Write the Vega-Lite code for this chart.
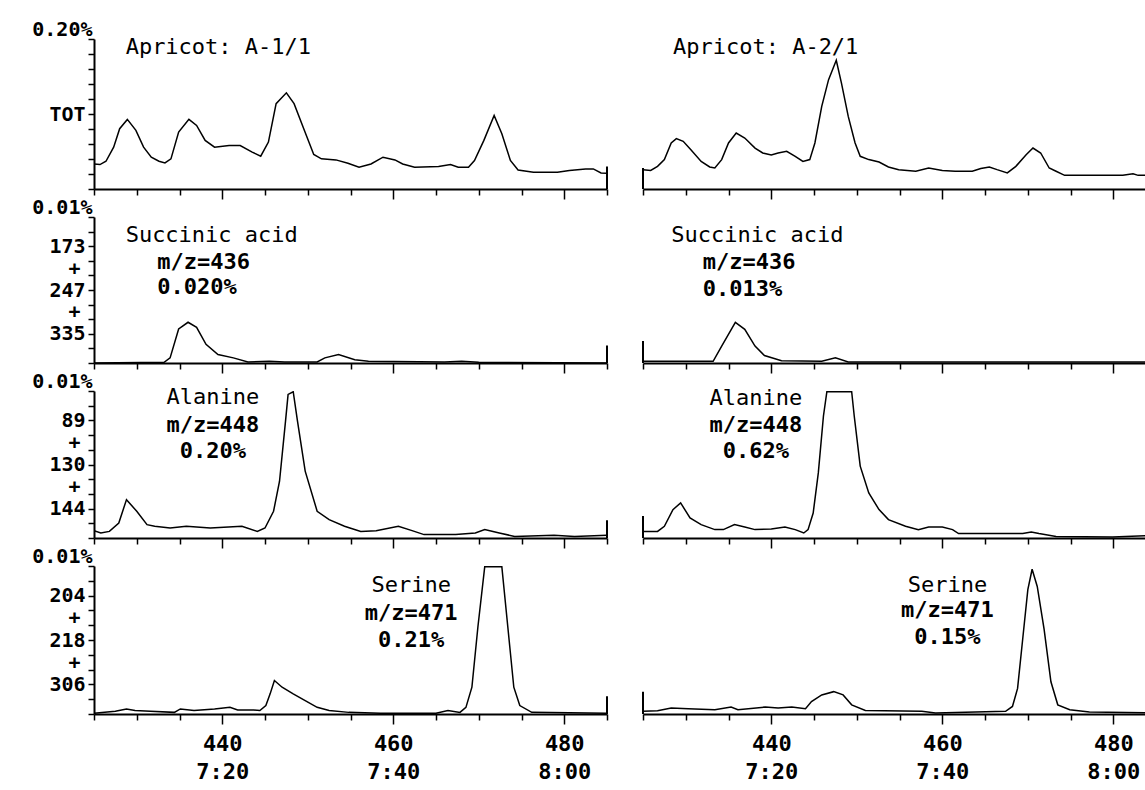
{
  "$schema": "https://vega.github.io/schema/vega-lite/v6.json",
  "padding": {"left": 5, "top": 19, "right": 0, "bottom": 0},
  "background": "white",
  "config": {
    "view": {"stroke": null},
    "axis": {
      "labelFont": "DejaVu Sans Mono", "labelFontSize": 22, "labelFontWeight": "bold", "labelColor": "black",
      "domainColor": "black", "domainWidth": 2, "tickColor": "black", "tickWidth": 1.5, "grid": false
    },
    "axisY": {"labelFontSize": 20},
    "text": {"font": "DejaVu Sans Mono", "fontSize": 22, "color": "black"},
    "line": {"color": "black", "strokeWidth": 1.5}
  },
  "datasets": {
    "traces": [
      {"panel":"L1","scan":425.0,"v":16.7},{"panel":"L1","scan":425.7,"v":16.3},{"panel":"L1","scan":426.4,"v":18.5},{"panel":"L1","scan":427.3,"v":27.9},{"panel":"L1","scan":428.0,"v":40.2},{"panel":"L1","scan":428.9,"v":46.4},{"panel":"L1","scan":429.9,"v":39.1},{"panel":"L1","scan":430.8,"v":27.9},{"panel":"L1","scan":431.7,"v":21.2},{"panel":"L1","scan":432.6,"v":18.5},{"panel":"L1","scan":433.3,"v":17.4},{"panel":"L1","scan":434.0,"v":20.1},{"panel":"L1","scan":434.9,"v":37.9},{"panel":"L1","scan":436.1,"v":46.4},{"panel":"L1","scan":437.0,"v":42.4},{"panel":"L1","scan":438.0,"v":32.4},{"panel":"L1","scan":439.1,"v":27.9},{"panel":"L1","scan":440.8,"v":29.0},{"panel":"L1","scan":442.1,"v":29.0},{"panel":"L1","scan":443.5,"v":24.6},{"panel":"L1","scan":444.5,"v":21.9},{"panel":"L1","scan":445.4,"v":31.3},{"panel":"L1","scan":446.3,"v":56.9},{"panel":"L1","scan":447.5,"v":64.1},{"panel":"L1","scan":448.4,"v":56.9},{"panel":"L1","scan":449.6,"v":39.1},{"panel":"L1","scan":450.7,"v":23.0},{"panel":"L1","scan":451.6,"v":20.1},{"panel":"L1","scan":453.3,"v":19.4},{"panel":"L1","scan":454.7,"v":17.2},{"panel":"L1","scan":456.0,"v":14.5},{"panel":"L1","scan":457.4,"v":16.7},{"panel":"L1","scan":458.8,"v":21.2},{"panel":"L1","scan":460.2,"v":19.4},{"panel":"L1","scan":461.1,"v":16.7},{"panel":"L1","scan":462.5,"v":14.5},{"panel":"L1","scan":465.3,"v":15.0},{"panel":"L1","scan":466.7,"v":16.3},{"panel":"L1","scan":467.6,"v":14.5},{"panel":"L1","scan":468.8,"v":14.5},{"panel":"L1","scan":469.5,"v":19.0},{"panel":"L1","scan":470.6,"v":32.4},{"panel":"L1","scan":471.8,"v":49.1},{"panel":"L1","scan":472.7,"v":36.8},{"panel":"L1","scan":473.7,"v":19.0},{"panel":"L1","scan":474.6,"v":12.7},{"panel":"L1","scan":476.4,"v":11.2},{"panel":"L1","scan":479.2,"v":11.2},{"panel":"L1","scan":480.6,"v":12.3},{"panel":"L1","scan":482.5,"v":13.4},{"panel":"L1","scan":483.4,"v":13.4},{"panel":"L1","scan":484.3,"v":10.7},{"panel":"L1","scan":485.0,"v":10.5},
      {"panel":"R1","scan":425.0,"v":12.9},{"panel":"R1","scan":425.9,"v":12.4},{"panel":"R1","scan":426.7,"v":15.1},{"panel":"R1","scan":427.5,"v":19.6},{"panel":"R1","scan":428.3,"v":30.7},{"panel":"R1","scan":428.9,"v":33.6},{"panel":"R1","scan":429.7,"v":31.8},{"panel":"R1","scan":430.6,"v":26.2},{"panel":"R1","scan":431.8,"v":18.4},{"panel":"R1","scan":432.8,"v":14.7},{"panel":"R1","scan":433.4,"v":14.0},{"panel":"R1","scan":434.2,"v":19.6},{"panel":"R1","scan":435.0,"v":30.7},{"panel":"R1","scan":435.9,"v":37.3},{"panel":"R1","scan":436.9,"v":34.0},{"panel":"R1","scan":438.1,"v":27.3},{"panel":"R1","scan":439.0,"v":24.0},{"panel":"R1","scan":440.0,"v":22.7},{"panel":"R1","scan":440.8,"v":24.0},{"panel":"R1","scan":441.8,"v":25.1},{"panel":"R1","scan":442.8,"v":21.8},{"panel":"R1","scan":443.7,"v":18.4},{"panel":"R1","scan":444.5,"v":19.6},{"panel":"R1","scan":445.1,"v":30.7},{"panel":"R1","scan":445.9,"v":55.1},{"panel":"R1","scan":446.7,"v":72.9},{"panel":"R1","scan":447.6,"v":85.8},{"panel":"R1","scan":448.2,"v":70.7},{"panel":"R1","scan":449.0,"v":48.4},{"panel":"R1","scan":449.8,"v":30.7},{"panel":"R1","scan":450.4,"v":21.8},{"panel":"R1","scan":451.4,"v":19.6},{"panel":"R1","scan":452.6,"v":18.0},{"panel":"R1","scan":453.7,"v":14.7},{"panel":"R1","scan":454.9,"v":12.9},{"panel":"R1","scan":456.9,"v":11.8},{"panel":"R1","scan":458.4,"v":14.0},{"panel":"R1","scan":460.0,"v":12.4},{"panel":"R1","scan":461.5,"v":11.8},{"panel":"R1","scan":463.5,"v":11.8},{"panel":"R1","scan":464.5,"v":13.6},{"panel":"R1","scan":465.5,"v":14.7},{"panel":"R1","scan":466.4,"v":12.9},{"panel":"R1","scan":467.6,"v":10.7},{"panel":"R1","scan":468.6,"v":15.1},{"panel":"R1","scan":469.8,"v":22.9},{"panel":"R1","scan":470.6,"v":27.3},{"panel":"R1","scan":471.5,"v":24.0},{"panel":"R1","scan":472.5,"v":14.0},{"panel":"R1","scan":473.3,"v":11.8},{"panel":"R1","scan":474.3,"v":9.1},{"panel":"R1","scan":477.2,"v":9.1},{"panel":"R1","scan":481.1,"v":9.1},{"panel":"R1","scan":482.3,"v":10.2},{"panel":"R1","scan":482.9,"v":9.1},{"panel":"R1","scan":483.7,"v":9.1},
      {"panel":"L2","scan":425.0,"v":0.0},{"panel":"L2","scan":433.2,"v":0.5},{"panel":"L2","scan":433.9,"v":3.5},{"panel":"L2","scan":434.9,"v":23.3},{"panel":"L2","scan":436.0,"v":27.9},{"panel":"L2","scan":437.0,"v":24.4},{"panel":"L2","scan":438.1,"v":12.8},{"panel":"L2","scan":439.5,"v":5.8},{"panel":"L2","scan":441.3,"v":3.5},{"panel":"L2","scan":443.0,"v":0.7},{"panel":"L2","scan":445.5,"v":1.2},{"panel":"L2","scan":447.3,"v":0.7},{"panel":"L2","scan":451.1,"v":0.7},{"panel":"L2","scan":452.0,"v":3.5},{"panel":"L2","scan":453.6,"v":5.8},{"panel":"L2","scan":455.5,"v":2.3},{"panel":"L2","scan":457.1,"v":1.2},{"panel":"L2","scan":466.0,"v":0.7},{"panel":"L2","scan":468.0,"v":1.2},{"panel":"L2","scan":470.0,"v":0.5},{"panel":"L2","scan":485.0,"v":0.0},
      {"panel":"R2","scan":425.0,"v":1.2},{"panel":"R2","scan":433.2,"v":1.2},{"panel":"R2","scan":434.2,"v":11.6},{"panel":"R2","scan":435.8,"v":27.8},{"panel":"R2","scan":436.9,"v":23.1},{"panel":"R2","scan":438.1,"v":11.6},{"panel":"R2","scan":439.2,"v":5.1},{"panel":"R2","scan":441.2,"v":1.6},{"panel":"R2","scan":445.9,"v":1.2},{"panel":"R2","scan":447.5,"v":3.5},{"panel":"R2","scan":449.0,"v":0.7},{"panel":"R2","scan":483.7,"v":0.7},
      {"panel":"L3","scan":425.0,"v":5.0},{"panel":"L3","scan":425.8,"v":3.4},{"panel":"L3","scan":426.8,"v":4.5},{"panel":"L3","scan":427.9,"v":10.2},{"panel":"L3","scan":428.8,"v":26.1},{"panel":"L3","scan":430.0,"v":18.2},{"panel":"L3","scan":431.2,"v":9.1},{"panel":"L3","scan":432.1,"v":8.0},{"panel":"L3","scan":433.9,"v":6.8},{"panel":"L3","scan":435.8,"v":8.0},{"panel":"L3","scan":438.6,"v":6.8},{"panel":"L3","scan":442.3,"v":8.0},{"panel":"L3","scan":444.1,"v":4.5},{"panel":"L3","scan":445.0,"v":6.8},{"panel":"L3","scan":446.0,"v":18.2},{"panel":"L3","scan":446.7,"v":38.6},{"panel":"L3","scan":447.4,"v":79.5},{"panel":"L3","scan":447.7,"v":97.7},{"panel":"L3","scan":448.3,"v":99.5},{"panel":"L3","scan":448.8,"v":79.5},{"panel":"L3","scan":449.7,"v":45.5},{"panel":"L3","scan":451.1,"v":18.2},{"panel":"L3","scan":452.5,"v":12.5},{"panel":"L3","scan":454.3,"v":8.0},{"panel":"L3","scan":456.2,"v":4.5},{"panel":"L3","scan":458.0,"v":5.0},{"panel":"L3","scan":460.6,"v":8.0},{"panel":"L3","scan":462.2,"v":5.0},{"panel":"L3","scan":463.6,"v":2.3},{"panel":"L3","scan":467.3,"v":2.3},{"panel":"L3","scan":469.6,"v":3.4},{"panel":"L3","scan":470.7,"v":5.7},{"panel":"L3","scan":472.4,"v":3.4},{"panel":"L3","scan":474.2,"v":1.1},{"panel":"L3","scan":478.8,"v":1.8},{"panel":"L3","scan":481.2,"v":1.1},{"panel":"L3","scan":485.0,"v":1.8},
      {"panel":"R3","scan":425.0,"v":4.5},{"panel":"R3","scan":426.7,"v":4.5},{"panel":"R3","scan":427.5,"v":8.0},{"panel":"R3","scan":428.5,"v":19.3},{"panel":"R3","scan":429.4,"v":23.9},{"panel":"R3","scan":430.5,"v":13.6},{"panel":"R3","scan":431.8,"v":9.1},{"panel":"R3","scan":433.4,"v":5.7},{"panel":"R3","scan":434.4,"v":5.7},{"panel":"R3","scan":435.7,"v":9.1},{"panel":"R3","scan":436.9,"v":7.5},{"panel":"R3","scan":438.1,"v":5.7},{"panel":"R3","scan":440.0,"v":6.1},{"panel":"R3","scan":441.6,"v":7.5},{"panel":"R3","scan":442.8,"v":5.7},{"panel":"R3","scan":443.8,"v":3.4},{"panel":"R3","scan":444.3,"v":5.7},{"panel":"R3","scan":444.9,"v":17.0},{"panel":"R3","scan":445.5,"v":44.3},{"panel":"R3","scan":446.1,"v":83.0},{"panel":"R3","scan":446.5,"v":99.5},{"panel":"R3","scan":449.4,"v":99.5},{"panel":"R3","scan":449.7,"v":83.0},{"panel":"R3","scan":450.4,"v":48.9},{"panel":"R3","scan":451.4,"v":30.7},{"panel":"R3","scan":452.6,"v":19.3},{"panel":"R3","scan":453.7,"v":12.5},{"panel":"R3","scan":455.7,"v":8.0},{"panel":"R3","scan":457.2,"v":5.7},{"panel":"R3","scan":458.4,"v":7.5},{"panel":"R3","scan":460.0,"v":7.5},{"panel":"R3","scan":461.2,"v":5.7},{"panel":"R3","scan":461.9,"v":3.0},{"panel":"R3","scan":469.4,"v":3.0},{"panel":"R3","scan":470.4,"v":4.1},{"panel":"R3","scan":471.3,"v":3.0},{"panel":"R3","scan":473.3,"v":1.1},{"panel":"R3","scan":479.9,"v":0.7},{"panel":"R3","scan":483.7,"v":1.6},
      {"panel":"L4","scan":425.0,"v":0.5},{"panel":"L4","scan":427.5,"v":1.8},{"panel":"L4","scan":428.8,"v":3.4},{"panel":"L4","scan":429.8,"v":2.3},{"panel":"L4","scan":431.6,"v":1.8},{"panel":"L4","scan":434.4,"v":1.1},{"panel":"L4","scan":435.1,"v":3.4},{"panel":"L4","scan":436.7,"v":2.3},{"panel":"L4","scan":439.1,"v":3.4},{"panel":"L4","scan":440.9,"v":4.5},{"panel":"L4","scan":441.8,"v":2.7},{"panel":"L4","scan":443.7,"v":2.7},{"panel":"L4","scan":444.4,"v":2.3},{"panel":"L4","scan":445.1,"v":5.7},{"panel":"L4","scan":445.6,"v":13.6},{"panel":"L4","scan":446.1,"v":22.6},{"panel":"L4","scan":447.0,"v":18.1},{"panel":"L4","scan":448.3,"v":13.6},{"panel":"L4","scan":449.7,"v":9.0},{"panel":"L4","scan":451.1,"v":4.5},{"panel":"L4","scan":452.5,"v":2.3},{"panel":"L4","scan":454.8,"v":1.1},{"panel":"L4","scan":458.5,"v":0.5},{"panel":"L4","scan":465.0,"v":0.5},{"panel":"L4","scan":466.4,"v":2.3},{"panel":"L4","scan":467.8,"v":1.1},{"panel":"L4","scan":468.5,"v":4.5},{"panel":"L4","scan":469.2,"v":18.1},{"panel":"L4","scan":469.9,"v":58.8},{"panel":"L4","scan":470.7,"v":99.5},{"panel":"L4","scan":472.7,"v":99.5},{"panel":"L4","scan":473.4,"v":58.8},{"panel":"L4","scan":474.1,"v":18.1},{"panel":"L4","scan":474.8,"v":5.7},{"panel":"L4","scan":476.2,"v":1.1},{"panel":"L4","scan":485.0,"v":0.5},
      {"panel":"R4","scan":425.0,"v":1.8},{"panel":"R4","scan":426.7,"v":2.2},{"panel":"R4","scan":428.3,"v":4.0},{"panel":"R4","scan":430.3,"v":3.6},{"panel":"R4","scan":433.4,"v":2.9},{"panel":"R4","scan":435.3,"v":4.7},{"panel":"R4","scan":436.1,"v":2.9},{"panel":"R4","scan":439.3,"v":4.7},{"panel":"R4","scan":440.8,"v":4.0},{"panel":"R4","scan":442.4,"v":4.7},{"panel":"R4","scan":444.0,"v":3.6},{"panel":"R4","scan":444.7,"v":8.4},{"panel":"R4","scan":445.9,"v":12.9},{"panel":"R4","scan":447.3,"v":15.1},{"panel":"R4","scan":448.4,"v":12.9},{"panel":"R4","scan":449.4,"v":6.2},{"panel":"R4","scan":451.0,"v":2.4},{"panel":"R4","scan":457.6,"v":1.8},{"panel":"R4","scan":459.2,"v":0.7},{"panel":"R4","scan":467.4,"v":1.8},{"panel":"R4","scan":468.2,"v":5.1},{"panel":"R4","scan":468.8,"v":17.3},{"panel":"R4","scan":469.4,"v":50.7},{"panel":"R4","scan":470.0,"v":84.0},{"panel":"R4","scan":470.5,"v":97.8},{"panel":"R4","scan":471.1,"v":86.2},{"panel":"R4","scan":471.9,"v":57.3},{"panel":"R4","scan":472.7,"v":21.8},{"panel":"R4","scan":473.5,"v":6.2},{"panel":"R4","scan":474.9,"v":2.9},{"panel":"R4","scan":477.2,"v":1.3},{"panel":"R4","scan":483.7,"v":0.9}
    ],
    "notes": [
      {"panel":"L1","kind":"name","scan":428.7,"v":95,"text":"Apricot: A-1/1"},
      {"panel":"R1","kind":"name","scan":428.5,"v":95,"text":"Apricot: A-2/1"},
      {"panel":"L2","kind":"name","scan":428.7,"v":88,"text":"Succinic acid"},
      {"panel":"L2","kind":"value","scan":432.4,"v":69,"text":"m/z=436"},
      {"panel":"L2","kind":"value","scan":432.4,"v":52,"text":"0.020%"},
      {"panel":"R2","kind":"name","scan":428.3,"v":88,"text":"Succinic acid"},
      {"panel":"R2","kind":"value","scan":432.0,"v":69,"text":"m/z=436"},
      {"panel":"R2","kind":"value","scan":432.0,"v":51,"text":"0.013%"},
      {"panel":"L3","kind":"name","scan":438.9,"v":96,"text":"Alanine"},
      {"panel":"L3","kind":"value","scan":438.9,"v":77,"text":"m/z=448"},
      {"panel":"L3","kind":"value","scan":438.9,"v":59,"text":"0.20%"},
      {"panel":"R3","kind":"name","scan":438.2,"v":95,"text":"Alanine"},
      {"panel":"R3","kind":"value","scan":438.2,"v":77,"text":"m/z=448"},
      {"panel":"R3","kind":"value","scan":438.2,"v":59,"text":"0.62%"},
      {"panel":"L4","kind":"name","scan":462.1,"v":87,"text":"Serine"},
      {"panel":"L4","kind":"value","scan":462.1,"v":68,"text":"m/z=471"},
      {"panel":"L4","kind":"value","scan":462.1,"v":50,"text":"0.21%"},
      {"panel":"R4","kind":"name","scan":460.6,"v":87,"text":"Serine"},
      {"panel":"R4","kind":"value","scan":460.6,"v":70,"text":"m/z=471"},
      {"panel":"R4","kind":"value","scan":460.6,"v":52,"text":"0.15%"}
    ],
    "edges": [
      {"panel":"L1","scan":485,"v":0,"v2":15},{"panel":"L2","scan":485,"v":0,"v2":12},{"panel":"L3","scan":485,"v":0,"v2":12},{"panel":"L4","scan":485,"v":0,"v2":12},
      {"panel":"R1","scan":425,"v":0,"v2":14},{"panel":"R2","scan":425,"v":0,"v2":15},{"panel":"R3","scan":425,"v":0,"v2":15},{"panel":"R4","scan":425,"v":0,"v2":15}
    ]
  },
  "vconcat": [
    {
      "spacing": 34,
      "hconcat": [
        {
          "width": 513, "height": 150,
          "encoding": {
            "x": {"field":"scan","type":"quantitative","title":null,"scale":{"domain":[425,485],"nice":false,"zero":false},
              "axis":{"values":[425,430,435,440,445,450,455,460,465,470,475,480,485],"labels":false,"tickSize":{"condition":{"test":"datum.value % 20 === 0","value":10},"value":6}}},
            "y": {"field":"v","type":"quantitative","title":null,"scale":{"domain":[0,100],"nice":false,"zero":false},
              "axis":{"values":[0,10,20,30,40,50,60,70,80,90,100],"labelExpr":"datum.value === 100 ? '0.20%' : datum.value === 50 ? 'TOT' : ''","labelBaseline":{"condition":{"test":"datum.value === 100","value":"bottom"},"value":"middle"},"labelPadding":{"condition":{"test":"datum.value === 100","value":-4},"value":3},"tickSize":6,"labelFlush":false,"labelOverlap":false,"minExtent":89,"maxExtent":89}}
          },
          "layer": [
            {"data":{"name":"traces"},"transform":[{"filter":"datum.panel === 'L1'"}],"mark":{"type":"line","clip":true}},
            {"data":{"name":"edges"},"transform":[{"filter":"datum.panel === 'L1'"}],"mark":{"type":"rule","color":"black","strokeWidth":2},"encoding":{"y2":{"field":"v2"}}},
            {"data":{"name":"notes"},"transform":[{"filter":"datum.panel === 'L1'"}],"mark":{"type":"text","align":"left"},"encoding":{"text":{"field":"text"}}}
          ]
        },
        {
          "width": 502, "height": 150,
          "encoding": {
            "x": {"field":"scan","type":"quantitative","title":null,"scale":{"domain":[425,483.7],"nice":false,"zero":false},
              "axis":{"values":[425,430,435,440,445,450,455,460,465,470,475,480],"labels":false,"tickSize":{"condition":{"test":"datum.value % 20 === 0","value":10},"value":6}}},
            "y": {"field":"v","type":"quantitative","title":null,"scale":{"domain":[0,100],"nice":false,"zero":false},"axis":null}
          },
          "layer": [
            {"data":{"name":"traces"},"transform":[{"filter":"datum.panel === 'R1'"}],"mark":{"type":"line","clip":true}},
            {"data":{"name":"edges"},"transform":[{"filter":"datum.panel === 'R1'"}],"mark":{"type":"rule","color":"black","strokeWidth":2},"encoding":{"y2":{"field":"v2"}}},
            {"data":{"name":"notes"},"transform":[{"filter":"datum.panel === 'R1'"}],"mark":{"type":"text","align":"left"},"encoding":{"text":{"field":"text"}}}
          ]
        }
      ]
    },
    {
      "spacing": 34,
      "hconcat": [
        {
          "width": 513, "height": 146,
          "encoding": {
            "x": {"field":"scan","type":"quantitative","title":null,"scale":{"domain":[425,485],"nice":false,"zero":false},
              "axis":{"values":[425,430,435,440,445,450,455,460,465,470,475,480,485],"labels":false,"tickSize":{"condition":{"test":"datum.value % 20 === 0","value":10},"value":6}}},
            "y": {"field":"v","type":"quantitative","title":null,"scale":{"domain":[0,100],"nice":false,"zero":false},
              "axis":{"values":[0,10,20,30,40,50,60,70,80,90,100,35,65],"labelExpr":"datum.value === 100 ? '0.01%' : datum.value === 80 ? '173' : datum.value === 50 ? '247' : datum.value === 20 ? '335' : (datum.value === 65 || datum.value === 35) ? '+' : ''","labelBaseline":{"condition":{"test":"datum.value === 100","value":"bottom"},"value":"middle"},"labelPadding":{"condition":[{"test":"datum.value === 100","value":-4},{"test":"datum.value === 35 || datum.value === 65","value":14}],"value":3},"tickSize":{"condition":{"test":"datum.value === 35 || datum.value === 65","value":0},"value":6},"labelFlush":false,"labelOverlap":false,"minExtent":89,"maxExtent":89}}
          },
          "layer": [
            {"data":{"name":"traces"},"transform":[{"filter":"datum.panel === 'L2'"}],"mark":{"type":"line","clip":true}},
            {"data":{"name":"edges"},"transform":[{"filter":"datum.panel === 'L2'"}],"mark":{"type":"rule","color":"black","strokeWidth":2},"encoding":{"y2":{"field":"v2"}}},
            {"data":{"name":"notes"},"transform":[{"filter":"datum.panel === 'L2' && datum.kind === 'name'"}],"mark":{"type":"text","align":"left"},"encoding":{"text":{"field":"text"}}},
            {"data":{"name":"notes"},"transform":[{"filter":"datum.panel === 'L2' && datum.kind === 'value'"}],"mark":{"type":"text","align":"left","fontWeight":"bold"},"encoding":{"text":{"field":"text"}}}
          ]
        },
        {
          "width": 502, "height": 146,
          "encoding": {
            "x": {"field":"scan","type":"quantitative","title":null,"scale":{"domain":[425,483.7],"nice":false,"zero":false},
              "axis":{"values":[425,430,435,440,445,450,455,460,465,470,475,480],"labels":false,"tickSize":{"condition":{"test":"datum.value % 20 === 0","value":10},"value":6}}},
            "y": {"field":"v","type":"quantitative","title":null,"scale":{"domain":[0,100],"nice":false,"zero":false},"axis":null}
          },
          "layer": [
            {"data":{"name":"traces"},"transform":[{"filter":"datum.panel === 'R2'"}],"mark":{"type":"line","clip":true}},
            {"data":{"name":"edges"},"transform":[{"filter":"datum.panel === 'R2'"}],"mark":{"type":"rule","color":"black","strokeWidth":2},"encoding":{"y2":{"field":"v2"}}},
            {"data":{"name":"notes"},"transform":[{"filter":"datum.panel === 'R2' && datum.kind === 'name'"}],"mark":{"type":"text","align":"left"},"encoding":{"text":{"field":"text"}}},
            {"data":{"name":"notes"},"transform":[{"filter":"datum.panel === 'R2' && datum.kind === 'value'"}],"mark":{"type":"text","align":"left","fontWeight":"bold"},"encoding":{"text":{"field":"text"}}}
          ]
        }
      ]
    },
    {
      "spacing": 34,
      "hconcat": [
        {
          "width": 513, "height": 147,
          "encoding": {
            "x": {"field":"scan","type":"quantitative","title":null,"scale":{"domain":[425,485],"nice":false,"zero":false},
              "axis":{"values":[425,430,435,440,445,450,455,460,465,470,475,480,485],"labels":false,"tickSize":{"condition":{"test":"datum.value % 20 === 0","value":10},"value":6}}},
            "y": {"field":"v","type":"quantitative","title":null,"scale":{"domain":[0,100],"nice":false,"zero":false},
              "axis":{"values":[0,10,20,30,40,50,60,70,80,90,100,35,65],"labelExpr":"datum.value === 100 ? '0.01%' : datum.value === 80 ? '89' : datum.value === 50 ? '130' : datum.value === 20 ? '144' : (datum.value === 65 || datum.value === 35) ? '+' : ''","labelBaseline":{"condition":{"test":"datum.value === 100","value":"bottom"},"value":"middle"},"labelPadding":{"condition":[{"test":"datum.value === 100","value":-4},{"test":"datum.value === 35 || datum.value === 65","value":14}],"value":3},"tickSize":{"condition":{"test":"datum.value === 35 || datum.value === 65","value":0},"value":6},"labelFlush":false,"labelOverlap":false,"minExtent":89,"maxExtent":89}}
          },
          "layer": [
            {"data":{"name":"traces"},"transform":[{"filter":"datum.panel === 'L3'"}],"mark":{"type":"line","clip":true}},
            {"data":{"name":"edges"},"transform":[{"filter":"datum.panel === 'L3'"}],"mark":{"type":"rule","color":"black","strokeWidth":2},"encoding":{"y2":{"field":"v2"}}},
            {"data":{"name":"notes"},"transform":[{"filter":"datum.panel === 'L3' && datum.kind === 'name'"}],"mark":{"type":"text","align":"center"},"encoding":{"text":{"field":"text"}}},
            {"data":{"name":"notes"},"transform":[{"filter":"datum.panel === 'L3' && datum.kind === 'value'"}],"mark":{"type":"text","align":"center","fontWeight":"bold"},"encoding":{"text":{"field":"text"}}}
          ]
        },
        {
          "width": 502, "height": 147,
          "encoding": {
            "x": {"field":"scan","type":"quantitative","title":null,"scale":{"domain":[425,483.7],"nice":false,"zero":false},
              "axis":{"values":[425,430,435,440,445,450,455,460,465,470,475,480],"labels":false,"tickSize":{"condition":{"test":"datum.value % 20 === 0","value":10},"value":6}}},
            "y": {"field":"v","type":"quantitative","title":null,"scale":{"domain":[0,100],"nice":false,"zero":false},"axis":null}
          },
          "layer": [
            {"data":{"name":"traces"},"transform":[{"filter":"datum.panel === 'R3'"}],"mark":{"type":"line","clip":true}},
            {"data":{"name":"edges"},"transform":[{"filter":"datum.panel === 'R3'"}],"mark":{"type":"rule","color":"black","strokeWidth":2},"encoding":{"y2":{"field":"v2"}}},
            {"data":{"name":"notes"},"transform":[{"filter":"datum.panel === 'R3' && datum.kind === 'name'"}],"mark":{"type":"text","align":"center"},"encoding":{"text":{"field":"text"}}},
            {"data":{"name":"notes"},"transform":[{"filter":"datum.panel === 'R3' && datum.kind === 'value'"}],"mark":{"type":"text","align":"center","fontWeight":"bold"},"encoding":{"text":{"field":"text"}}}
          ]
        }
      ]
    },
    {
      "spacing": 34,
      "hconcat": [
        {
          "width": 513, "height": 148,
          "encoding": {
            "x": {"field":"scan","type":"quantitative","title":null,"scale":{"domain":[425,485],"nice":false,"zero":false},
              "axis":{"values":[425,430,435,440,445,450,455,460,465,470,475,480,485],"labelExpr":"datum.value === 440 ? ['440','7:20'] : datum.value === 460 ? ['460','7:40'] : datum.value === 480 ? ['480','8:00'] : ''","labelPadding":9,"labelLineHeight":28,"labelOverlap":false,"labelFlush":false,"tickSize":{"condition":{"test":"datum.value % 20 === 0","value":10},"value":6}}},
            "y": {"field":"v","type":"quantitative","title":null,"scale":{"domain":[0,100],"nice":false,"zero":false},
              "axis":{"values":[0,10,20,30,40,50,60,70,80,90,100,35,65],"labelExpr":"datum.value === 100 ? '0.01%' : datum.value === 80 ? '204' : datum.value === 50 ? '218' : datum.value === 20 ? '306' : (datum.value === 65 || datum.value === 35) ? '+' : ''","labelBaseline":{"condition":{"test":"datum.value === 100","value":"bottom"},"value":"middle"},"labelPadding":{"condition":[{"test":"datum.value === 100","value":-4},{"test":"datum.value === 35 || datum.value === 65","value":14}],"value":3},"tickSize":{"condition":{"test":"datum.value === 35 || datum.value === 65","value":0},"value":6},"labelFlush":false,"labelOverlap":false,"minExtent":89,"maxExtent":89}}
          },
          "layer": [
            {"data":{"name":"traces"},"transform":[{"filter":"datum.panel === 'L4'"}],"mark":{"type":"line","clip":true}},
            {"data":{"name":"edges"},"transform":[{"filter":"datum.panel === 'L4'"}],"mark":{"type":"rule","color":"black","strokeWidth":2},"encoding":{"y2":{"field":"v2"}}},
            {"data":{"name":"notes"},"transform":[{"filter":"datum.panel === 'L4' && datum.kind === 'name'"}],"mark":{"type":"text","align":"center"},"encoding":{"text":{"field":"text"}}},
            {"data":{"name":"notes"},"transform":[{"filter":"datum.panel === 'L4' && datum.kind === 'value'"}],"mark":{"type":"text","align":"center","fontWeight":"bold"},"encoding":{"text":{"field":"text"}}}
          ]
        },
        {
          "width": 502, "height": 148,
          "encoding": {
            "x": {"field":"scan","type":"quantitative","title":null,"scale":{"domain":[425,483.7],"nice":false,"zero":false},
              "axis":{"values":[425,430,435,440,445,450,455,460,465,470,475,480],"labelExpr":"datum.value === 440 ? ['440','7:20'] : datum.value === 460 ? ['460','7:40'] : datum.value === 480 ? ['480','8:00'] : ''","labelPadding":9,"labelLineHeight":28,"labelOverlap":false,"labelFlush":false,"tickSize":{"condition":{"test":"datum.value % 20 === 0","value":10},"value":6}}},
            "y": {"field":"v","type":"quantitative","title":null,"scale":{"domain":[0,100],"nice":false,"zero":false},"axis":null}
          },
          "layer": [
            {"data":{"name":"traces"},"transform":[{"filter":"datum.panel === 'R4'"}],"mark":{"type":"line","clip":true}},
            {"data":{"name":"edges"},"transform":[{"filter":"datum.panel === 'R4'"}],"mark":{"type":"rule","color":"black","strokeWidth":2},"encoding":{"y2":{"field":"v2"}}},
            {"data":{"name":"notes"},"transform":[{"filter":"datum.panel === 'R4' && datum.kind === 'name'"}],"mark":{"type":"text","align":"center"},"encoding":{"text":{"field":"text"}}},
            {"data":{"name":"notes"},"transform":[{"filter":"datum.panel === 'R4' && datum.kind === 'value'"}],"mark":{"type":"text","align":"center","fontWeight":"bold"},"encoding":{"text":{"field":"text"}}}
          ]
        }
      ]
    }
  ],
  "spacing": -3
}
